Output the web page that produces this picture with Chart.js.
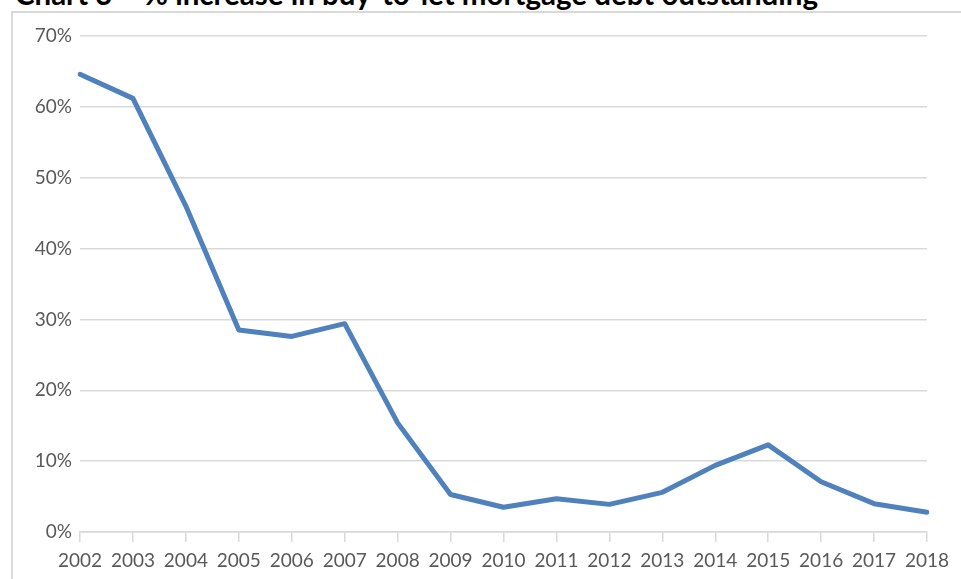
<!DOCTYPE html>
<html>
<head>
<meta charset="utf-8">
<script src="https://cdn.jsdelivr.net/npm/chart.js@4"></script>
<style>
  html, body { margin: 0; padding: 0; background: #fff; overflow: hidden; }
  body { width: 961px; height: 579px; position: relative; }
  #title {
    position: absolute; left: 15px; top: -21px;
    font: bold 29.5px Lato, sans-serif; line-height: 1; white-space: nowrap; color: #000;
  }
  #frame {
    position: absolute; left: 11px; top: 11px; width: 960px; height: 580px;
    border-left: 2px solid #d9d9d9; border-top: 2px solid #d9d9d9;
  }
  #wrap { position: absolute; left: 0; top: 0; width: 961px; height: 579px; }
</style>
</head>
<body>
<div id="title">Chart 3 – % increase in buy-to-let mortgage debt outstanding</div>
<div id="frame"></div>
<div id="wrap"><canvas id="chart"></canvas></div>
<script>
  const years = ['2002', '2003', '2004', '2005', '2006', '2007', '2008', '2009', '2010',
                 '2011', '2012', '2013', '2014', '2015', '2016', '2017', '2018'];
  const increasePct = [64.6, 61.2, 46.0, 28.5, 27.6, 29.4, 15.4, 5.3, 3.5,
                       4.7, 3.9, 5.6, 9.4, 12.3, 7.1, 4.0, 2.8];
  const yTicks = [0, 10, 20, 30, 40, 50, 60, 70];

  const gridColor = '#d9d9d9';
  const labelColor = '#595959';
  const tickFont = { family: 'Lato', size: 19 };

  new Chart(document.getElementById('chart'), {
    type: 'line',
    data: {
      labels: years,
      datasets: [{
        data: increasePct,
        borderColor: '#4f81bd',
        borderWidth: 5,
        borderJoinStyle: 'round',
        borderCapStyle: 'round',
        pointRadius: 0,
        tension: 0,
        fill: false
      }]
    },
    options: {
      responsive: true,
      maintainAspectRatio: false,
      animation: false,
      layout: { padding: { left: 0, right: 34, top: 36, bottom: 0 } },
      plugins: { legend: { display: false }, title: { display: false }, tooltip: { enabled: false } },
      scales: {
        x: {
          offset: false,
          grid: { display: true, drawOnChartArea: false, drawTicks: true, tickLength: 10, color: gridColor, lineWidth: 1.5 },
          border: { display: true, color: gridColor, width: 1.5 },
          ticks: { color: labelColor, font: tickFont, padding: 7, maxRotation: 0, autoSkip: false },
          afterFit: (scale) => { scale.height = 47; }
        },
        y: {
          min: yTicks[0],
          max: yTicks[yTicks.length - 1],
          afterBuildTicks: (scale) => { scale.ticks = yTicks.map(v => ({ value: v })); },
          grid: { color: gridColor, lineWidth: 1.5, drawTicks: false },
          border: { display: false },
          ticks: { color: labelColor, font: tickFont, padding: 8, callback: (v) => v + '%' },
          afterFit: (scale) => { scale.width = 80; }
        }
      }
    }
  });
</script>
</body>
</html>
